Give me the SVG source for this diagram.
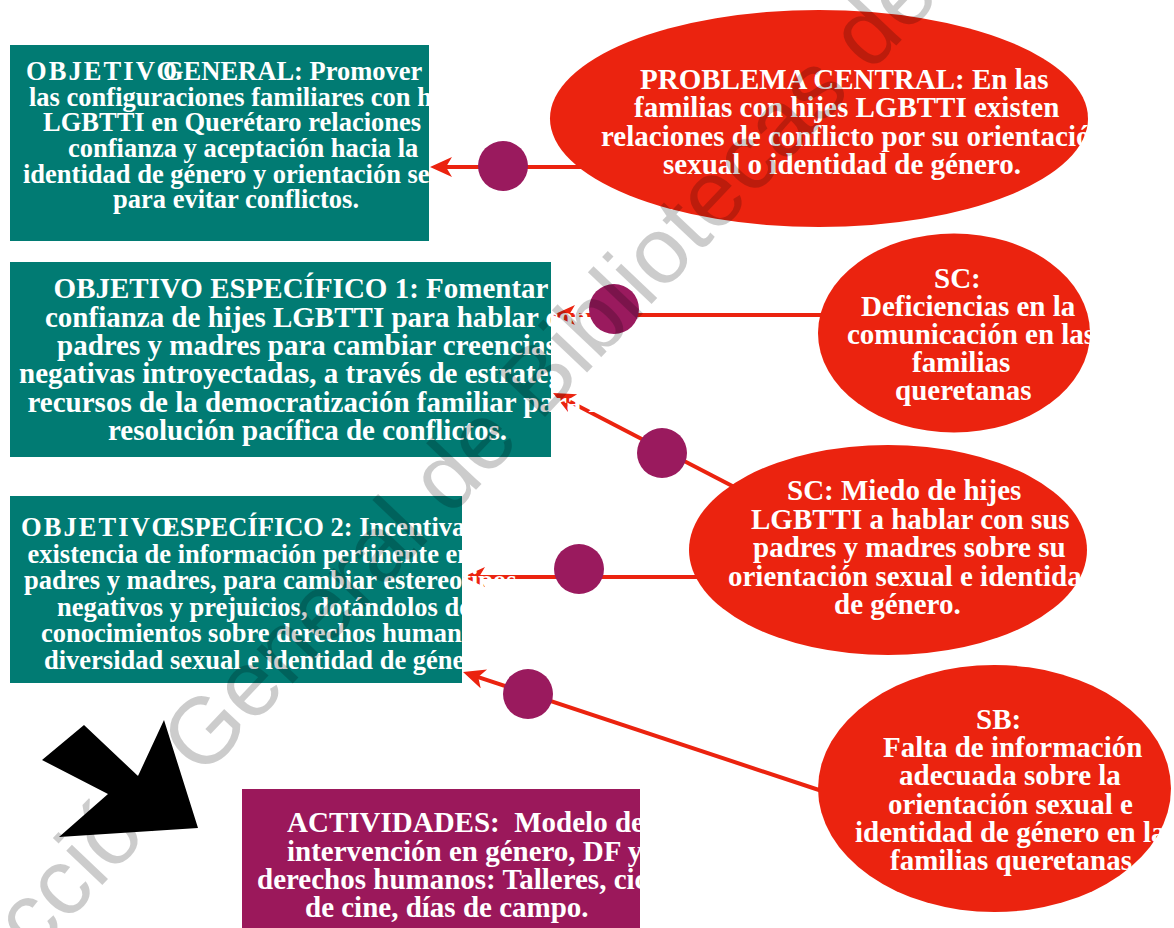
<svg xmlns="http://www.w3.org/2000/svg" width="1174" height="928" viewBox="0 0 1174 928">
<style>
.t{font-family:"Liberation Serif","Times New Roman",serif;font-weight:bold;fill:#ffffff;}
.s26{font-size:26.5px;}
.s29{font-size:29px;}
.box{fill:#017B73;}
.ell{fill:#EB230F;}
.act{fill:#9B185B;}
.ln{stroke:#EB230F;stroke-width:4;fill:none;}
.dot{fill:#9A1A5E;}
.wm{font-family:"Liberation Sans",Arial,sans-serif;font-size:94px;fill:#000;fill-opacity:0.2;}
</style>
<defs>
<marker id="ah" markerUnits="userSpaceOnUse" markerWidth="24" markerHeight="22" refX="10" refY="10" orient="auto">
<path d="M0,0 L22,10 L0,20 L6,10 Z" fill="#EB230F"/>
</marker>
<clipPath id="clipOG"><rect x="10" y="45" width="419" height="196"/></clipPath>
</defs>
<rect width="1174" height="928" fill="#ffffff"/>
<g id="connectors">
<line class="ln" x1="600" y1="167" x2="442" y2="167" marker-end="url(#ah)"/>
<line class="ln" x1="840" y1="315" x2="565" y2="315" marker-end="url(#ah)"/>
<line class="ln" x1="740" y1="490" x2="563.7" y2="398.5" marker-end="url(#ah)"/>
<line class="ln" x1="720" y1="577" x2="475" y2="577" marker-end="url(#ah)"/>
<line class="ln" x1="825" y1="792" x2="474.4" y2="675.8" marker-end="url(#ah)"/>
</g>
<g id="objetivo-general">
<rect class="box" x="10" y="45" width="419" height="196"/>
<g clip-path="url(#clipOG)">
<text class="t s26" x="26" y="80" textLength="151" lengthAdjust="spacing">OBJETIVO</text>
<text class="t s26" x="163" y="80">GENERAL: Promover</text>
<text class="t s26" x="29" y="105.5">las configuraciones familiares con hijes</text>
<text class="t s26" x="43" y="131">LGBTTI en Querétaro relaciones</text>
<text class="t s26" x="68" y="157">confianza y aceptación hacia la</text>
<text class="t s26" x="23" y="182.5">identidad de género y orientación sexual</text>
<text class="t s26" x="113" y="208">para evitar conflictos.</text>
</g>
</g>
<g id="problema-central">
<ellipse class="ell" cx="819" cy="118.5" rx="269" ry="108.5"/>
<text class="t s29" x="640" y="89">PROBLEMA CENTRAL: En las</text>
<text class="t s29" x="634" y="117">familias con hijes LGBTTI existen</text>
<text class="t s29" x="601" y="145.5">relaciones de conflicto por su orientación</text>
<text class="t s29" x="663" y="174">sexual o identidad de género.</text>
</g>
<g id="objetivo-especifico-1">
<rect class="box" x="10" y="262" width="541" height="195"/>
<text class="t s29" x="53.6" y="298">OBJETIVO ESPECÍFICO 1: Fomentar</text>
<text class="t s29" x="45" y="326.5">confianza de hijes LGBTTI para hablar con sus</text>
<text class="t s29" x="57" y="355">padres y madres para cambiar creencias</text>
<text class="t s29" x="19" y="383">negativas introyectadas, a través de estrategias y</text>
<text class="t s29" x="27.5" y="412">recursos de la democratización familiar para la</text>
<text class="t s29" x="108" y="440">resolución pacífica de conflictos.</text>
</g>
<g id="sc-comunicacion">
<ellipse class="ell" cx="954" cy="333" rx="136" ry="99.5"/>
<text class="t s29" x="934" y="288">SC:</text>
<text class="t s29" x="861" y="316">Deficiencias en la</text>
<text class="t s29" x="847" y="343.5">comunicación en las</text>
<text class="t s29" x="912" y="372">familias</text>
<text class="t s29" x="895" y="400">queretanas</text>
</g>
<g id="objetivo-especifico-2">
<rect class="box" x="10" y="496" width="452" height="187"/>
<text class="t s26" x="21" y="536" textLength="151" lengthAdjust="spacing">OBJETIVO</text>
<text class="t s26" x="162" y="536">ESPECÍFICO 2: Incentivar</text>
<text class="t s26" x="27.5" y="562.5">existencia de información pertinente en</text>
<text class="t s26" x="24" y="589">padres y madres, para cambiar estereotipos</text>
<text class="t s26" x="57" y="615.5">negativos y prejuicios, dotándolos de</text>
<text class="t s26" x="41" y="642">conocimientos sobre derechos humanos,</text>
<text class="t s26" x="44" y="668.5">diversidad sexual e identidad de género.</text>
</g>
<g id="sc-miedo">
<ellipse class="ell" cx="888" cy="550" rx="199" ry="105"/>
<text class="t s29" x="787" y="500">SC: Miedo de hijes</text>
<text class="t s29" x="751" y="528.5">LGBTTI a hablar con sus</text>
<text class="t s29" x="753" y="557">padres y madres sobre su</text>
<text class="t s29" x="728" y="585.5">orientación sexual e identidad</text>
<text class="t s29" x="834" y="614">de género.</text>
</g>
<g id="sb-informacion">
<ellipse class="ell" cx="994.5" cy="788.5" rx="176.5" ry="123.5"/>
<text class="t s29" x="976" y="729">SB:</text>
<text class="t s29" x="883" y="757">Falta de información</text>
<text class="t s29" x="899" y="785">adecuada sobre la</text>
<text class="t s29" x="888" y="814">orientación sexual e</text>
<text class="t s29" x="855" y="842">identidad de género en las</text>
<text class="t s29" x="890" y="870">familias queretanas</text>
</g>
<g id="actividades">
<rect class="act" x="242" y="789" width="398" height="139"/>
<text class="t s29" x="287" y="832">ACTIVIDADES:&#160; Modelo de</text>
<text class="t s29" x="287" y="861">intervención en género, DF y</text>
<text class="t s29" x="257" y="889">derechos humanos: Talleres, ciclos</text>
<text class="t s29" x="305" y="917">de cine, días de campo.</text>
</g>
<g id="connector-dots">
<circle class="dot" cx="503" cy="166" r="25"/>
<circle class="dot" cx="614" cy="309" r="25"/>
<circle class="dot" cx="662" cy="453" r="25"/>
<circle class="dot" cx="579" cy="569" r="25"/>
<circle class="dot" cx="528" cy="694" r="25"/>
</g>
<g id="black-arrow">
<polygon points="84,725 138,776 164,720 198,828 59,837 108,794 42,760" fill="#000000"/>
</g>
<g id="watermark">
<text class="wm" transform="translate(-85,1083) rotate(-46.6)">Dirección General de Bibliotecas de</text>
</g>
</svg>
